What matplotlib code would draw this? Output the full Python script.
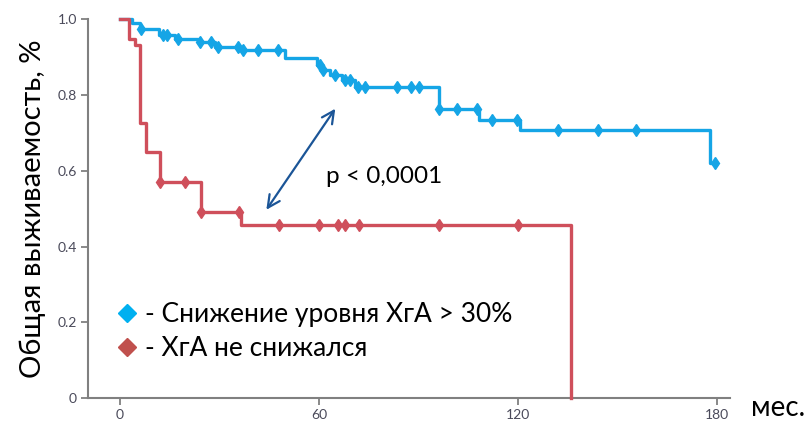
import numpy as np
import matplotlib.pyplot as plt
from matplotlib.lines import Line2D

plt.rcParams['font.family'] = ['Lato', 'DejaVu Sans']

# Kaplan-Meier steps: month of each drop and survival after it
t_down = [0, 3.7, 6.0, 11.8, 16.6, 23.6, 28.6, 36.5, 49.7, 59.3, 60.8, 63.3,
          67.0, 71.0, 96.3, 108.3, 120.6, 177.9]
s_down = [1.0, 0.99, 0.975, 0.958, 0.949, 0.940, 0.926, 0.918, 0.898, 0.879,
          0.865, 0.852, 0.840, 0.820, 0.762, 0.733, 0.707, 0.621]
t_down_end = 179.4
cens_down = [6.3, 13.1, 14.1, 17.6, 24.1, 27.6, 29.5, 35.7, 37.2, 41.7, 47.7,
             60.3, 61.3, 64.8, 67.8, 69.3, 71.8, 73.9, 83.6, 87.6, 90.2, 96.3,
             101.7, 107.7, 112.1, 119.6, 132.0, 144.0, 155.5, 179.4]

t_flat = [0, 2.8, 4.5, 6.0, 8.0, 12.1, 24.4, 36.5, 136.0]
s_flat = [1.0, 0.949, 0.931, 0.725, 0.650, 0.571, 0.492, 0.456, 0.0]
t_flat_end = 136.0
cens_flat = [12.1, 19.6, 24.6, 35.9, 48.0, 60.0, 65.8, 68.0, 72.2, 96.2, 119.9]

labels = ['- Снижение уровня ХгА > 30%', '- ХгА не снижался']
blue = '#15a5e6'
red = '#cf4f5b'

xticks = [0, 60, 120, 180]
yticks = [0, 0.2, 0.4, 0.6, 0.8, 1.0]
yticklabels = ['0', '0.2', '0.4', '0.6', '0.8', '1.0']


def km_curve(ax, t, s, t_end, cens, color):
    t = np.asarray(t, dtype=float)
    s = np.asarray(s, dtype=float)
    tx = np.append(t, t_end)
    sx = np.append(s, s[-1])
    ax.step(tx, sx, where='post', color=color, lw=2.4, clip_on=False, zorder=3)
    idx = np.searchsorted(t, cens, side='right') - 1
    ax.plot(cens, s[idx], ls='none', marker='d', ms=6, color=color,
            clip_on=False, zorder=4)


fig = plt.figure(figsize=(8.06, 4.26), dpi=100)
ax = fig.add_axes([0.109, 0.0657, 0.797, 0.889])

km_curve(ax, t_down, s_down, t_down_end, cens_down, blue)
km_curve(ax, t_flat, s_flat, t_flat_end, cens_flat, red)

ax.set_xlim(-9.6, 183.9)
ax.set_ylim(0, 1.0)
ax.set_xticks(xticks)
ax.set_yticks(yticks)
ax.set_yticklabels(yticklabels)

for side in ['top', 'right']:
    ax.spines[side].set_visible(False)
for side in ['left', 'bottom']:
    ax.spines[side].set_color('#808080')
    ax.spines[side].set_linewidth(1.5)
ax.tick_params(direction='out', length=5, width=1.3, color='#808080',
               labelsize=10, labelcolor='#4a4a5a', pad=3)

ax.set_ylabel('Общая выживаемость, %', fontsize=21, labelpad=8)
fig.text(0.965, 0.042, 'мес.', fontsize=20, ha='center', va='center')

# p-value and the two-headed arrow between the curves
ax.annotate('', xy=(43.7, 0.491), xytext=(65.4, 0.770),
            arrowprops=dict(arrowstyle='<->', color='#1b5597', lw=1.6,
                            mutation_scale=22))
ax.text(62.0, 0.585, 'p < 0,0001', fontsize=17.5, ha='left', va='center')

handles = [Line2D([], [], ls='none', marker='D', ms=9, color='#00b0f0'),
           Line2D([], [], ls='none', marker='D', ms=9, color='#c0504d')]
ax.legend(handles, labels, loc='center left', bbox_to_anchor=(0.044, 0.176),
          frameon=False, fontsize=19, handlelength=0.8, handletextpad=0.3,
          labelspacing=0.35, borderaxespad=0, borderpad=0)

fig.savefig('out.png', dpi=100)
